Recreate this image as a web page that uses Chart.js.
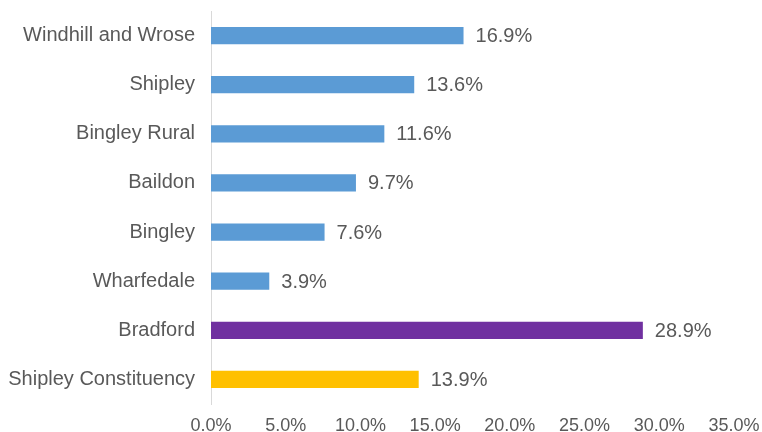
<!DOCTYPE html>
<html>
<head>
<meta charset="utf-8">
<script src="https://cdn.jsdelivr.net/npm/chart.js@4"></script>
<style>
  html, body { margin: 0; padding: 0; background: #fff; }
  #wrap { position: relative; width: 762px; height: 432px; }
</style>
</head>
<body>
<div id="wrap"><canvas id="chart"></canvas></div>
<script>
// data
const categories = ["Windhill and Wrose", "Shipley", "Bingley Rural", "Baildon", "Bingley", "Wharfedale", "Bradford", "Shipley Constituency"];
const values = [16.9, 13.6, 11.6, 9.7, 7.6, 3.9, 28.9, 13.9];
const barColours = ["#5B9BD5", "#5B9BD5", "#5B9BD5", "#5B9BD5", "#5B9BD5", "#5B9BD5", "#7030A0", "#FFC000"];

const textGrey = "#595959";
const fontFamily = "'Liberation Sans', Arial, sans-serif";

// value labels at the end of each bar
const barLabels = {
  id: "barLabels",
  afterDatasetsDraw(chart) {
    const ctx = chart.ctx;
    const meta = chart.getDatasetMeta(0);
    ctx.save();
    ctx.font = "20px " + fontFamily;
    ctx.fillStyle = textGrey;
    ctx.textAlign = "left";
    ctx.textBaseline = "middle";
    meta.data.forEach((bar, i) => {
      ctx.fillText(values[i].toFixed(1) + "%", bar.x + 12, bar.y + 1);
    });
    ctx.restore();
  }
};

new Chart(document.getElementById("chart"), {
  type: "bar",
  data: {
    labels: categories,
    datasets: [{
      data: values,
      backgroundColor: barColours,
      barPercentage: 0.35,
      categoryPercentage: 1
    }]
  },
  options: {
    indexAxis: "y",
    responsive: true,
    maintainAspectRatio: false,
    animation: false,
    layout: { padding: { top: 11, right: 28, bottom: 0, left: 0 } },
    plugins: {
      legend: { display: false },
      tooltip: { enabled: false }
    },
    scales: {
      x: {
        min: 0,
        max: 35,
        ticks: {
          stepSize: 5,
          color: textGrey,
          font: { family: fontFamily, size: 18 },
          padding: 11,
          maxRotation: 0,
          callback: v => v.toFixed(1) + "%"
        },
        grid: { display: false, drawTicks: false },
        border: { display: false },
        afterFit: s => { s.height = 28; s.paddingLeft = 0; s.paddingRight = 0; }
      },
      y: {
        ticks: {
          color: textGrey,
          font: { family: fontFamily, size: 20 },
          padding: 16
        },
        grid: { display: false, drawTicks: false },
        border: { color: "#D9D9D9", width: 1 },
        afterFit: s => { s.width = 211; s.paddingTop = 0; s.paddingBottom = 0; }
      }
    }
  },
  plugins: [barLabels]
});
</script>
</body>
</html>
